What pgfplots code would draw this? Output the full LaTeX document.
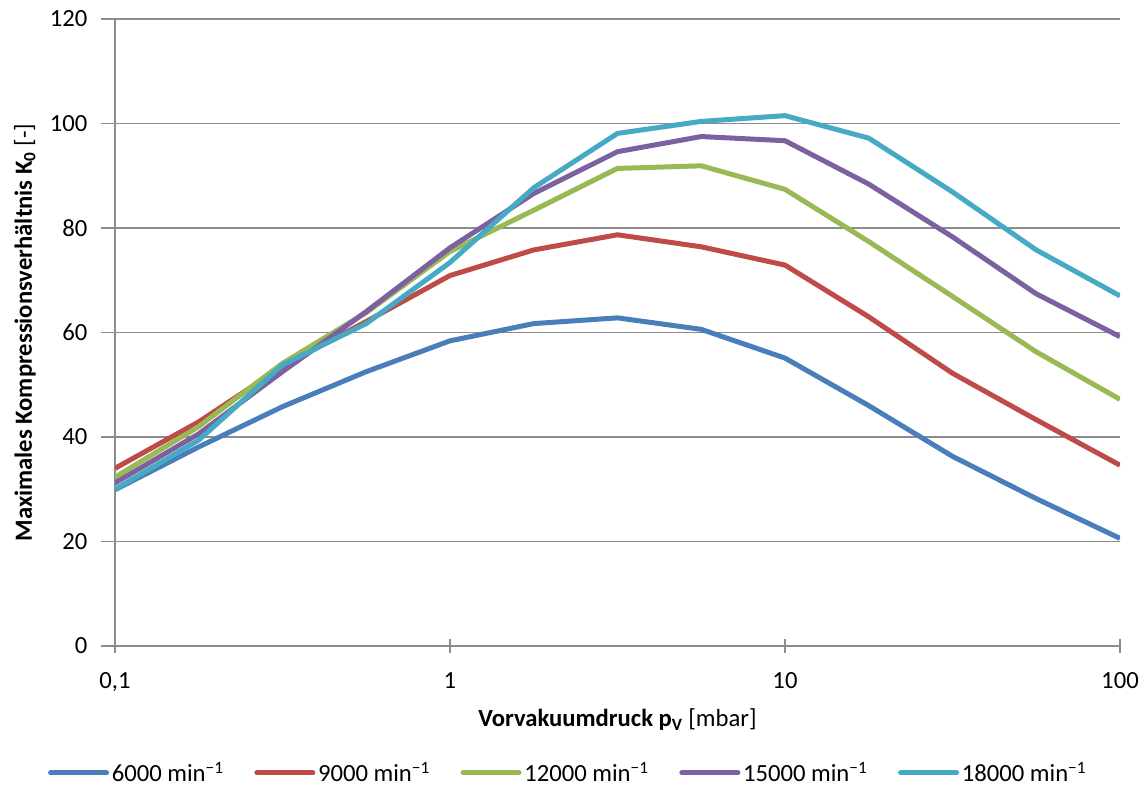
\documentclass[border=0pt]{standalone}
\usepackage{fontspec}
\setmainfont{Carlito}
\usepackage{pgfplots}
\pgfplotsset{compat=1.18}
\definecolor{cblue}{HTML}{4A7EBB}
\definecolor{cred}{HTML}{BE4B48}
\definecolor{cgreen}{HTML}{98B954}
\definecolor{cpurple}{HTML}{7D60A0}
\definecolor{ccyan}{HTML}{46AAC5}
\definecolor{axgray}{HTML}{8C8C8C}
\begin{document}
\begin{tikzpicture}
\begin{axis}[
  scale only axis,
  width=753.75pt, height=470.25pt,
  xmode=log, log basis x=10,
  xmin=0.1, xmax=100, ymin=0, ymax=120,
  ytick={0,20,...,120},
  xtick={0.1,1,10,100},
  xticklabels={{0,1},1,10,100},
  axis x line*=bottom, axis y line*=left,
  axis line style={axgray, line width=1.2pt},
  every tick/.style={axgray, line width=1.1pt},
  tick align=center,
  major tick length=10.5pt,
  minor tick length=5pt,
  minor x tick style={yshift=2.5pt},
  major y tick style={xshift=-5.25pt},
  ymajorgrids,
  major grid style={axgray, line width=1.3pt},
  tick label style={font=\fontsize{18.5}{21}\selectfont},
  /pgf/number format/assume math mode=true,
  yticklabel style={xshift=-12pt},
  xticklabel style={yshift=-11pt},
  xlabel={\textbf{Vorvakuumdruck p\textsubscript{V}} [mbar]},
  ylabel={\textbf{Maximales Kompressionsverhältnis K\textsubscript{0}} [-]},
  label style={font=\fontsize{18.5}{21}\selectfont},
  xlabel style={at={(axis description cs:0.5,0)}, anchor=center, yshift=-55.5pt},
  ylabel style={at={(axis description cs:0,0.5)}, anchor=center, yshift=67.5pt},
  legend columns=5,
  legend style={at={(axis description cs:0.5,0)}, anchor=center, yshift=-95.25pt, xshift=-36.75pt,
    draw=none, fill=none, font=\fontsize{18.5}{21}\selectfont,
    /tikz/every even column/.append style={column sep=21pt}},
  legend image code/.code={\draw[#1, line width=3.75pt, line cap=round] (0pt,0pt) -- (42pt,0pt);},
  every axis plot/.append style={line width=3.75pt, line join=round, no markers},
]
\addplot[cblue] coordinates {(0.1,29.9) (0.17783,38.1) (0.31623,45.8) (0.56234,52.5) (1,58.4) (1.7783,61.7) (3.1623,62.8) (5.6234,60.6) (10,55.1) (17.783,46.0) (31.623,36.3) (56.234,28.2) (100,20.6)};
\addplot[cred] coordinates {(0.1,34.0) (0.17783,42.9) (0.31623,53.5) (0.56234,62.1) (1,70.9) (1.7783,75.8) (3.1623,78.7) (5.6234,76.4) (10,72.9) (17.783,63.0) (31.623,52.2) (56.234,43.3) (100,34.6)};
\addplot[cgreen] coordinates {(0.1,32.3) (0.17783,42.0) (0.31623,54.1) (0.56234,63.8) (1,75.5) (1.7783,83.4) (3.1623,91.4) (5.6234,91.9) (10,87.4) (17.783,77.4) (31.623,66.9) (56.234,56.3) (100,47.2)};
\addplot[cpurple] coordinates {(0.1,31.2) (0.17783,40.6) (0.31623,52.5) (0.56234,64.0) (1,76.2) (1.7783,86.6) (3.1623,94.6) (5.6234,97.5) (10,96.7) (17.783,88.4) (31.623,78.3) (56.234,67.4) (100,59.2)};
\addplot[ccyan] coordinates {(0.1,30.0) (0.17783,39.4) (0.31623,53.8) (0.56234,61.7) (1,73.4) (1.7783,87.7) (3.1623,98.1) (5.6234,100.4) (10,101.5) (17.783,97.2) (31.623,86.9) (56.234,75.8) (100,67.0)};
\legend{6000 min\textsuperscript{−1},9000 min\textsuperscript{−1},12000 min\textsuperscript{−1},15000 min\textsuperscript{−1},18000 min\textsuperscript{−1}}
\end{axis}
\pgfresetboundingbox
\path[use as bounding box] (-86.25pt,-105.75pt) rectangle (774pt,484.5pt);
\end{tikzpicture}
\end{document}
